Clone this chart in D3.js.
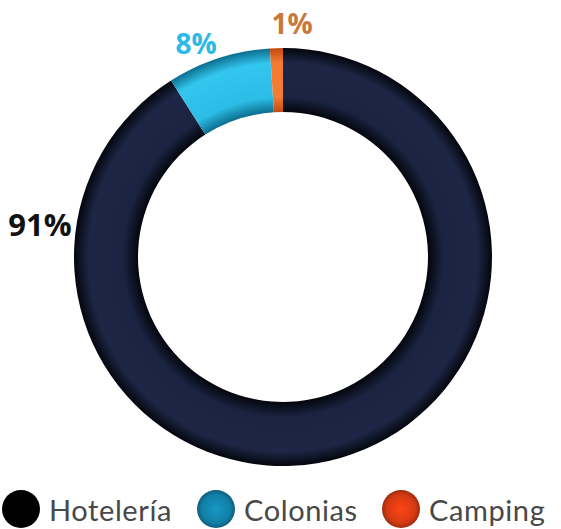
<!DOCTYPE html>
<html>
<head>
<meta charset="utf-8">
<script src="https://cdn.jsdelivr.net/npm/d3@7"></script>
<style>
  body { margin: 0; background: #fff; }
  svg { display: block; }
</style>
</head>
<body>
<svg id="chart" width="561" height="529"></svg>
<script>
const categories = ["Hotelería", "Colonias", "Camping"];
const shares = [91, 8, 1];
const labels = ["91%", "8%", "1%"];

const svg = d3.select("#chart");
const cx = 283, cy = 257;
const outerR = 209, innerR = 145;

const defs = svg.append("defs");
// ring shading: darker at the inner and outer edge
const ringStops = {
    "Hotelería": ["#04060d", "#1a2340", "#1d2645", "#04060d"],
    "Colonias": ["#0c6e8e", "#2bbde6", "#33c6ee", "#0c6e8e"],
    "Camping": ["#c24a12", "#f57a32", "#f57a32", "#c24a12"]
};
categories.forEach((c, i) => {
    const g = defs.append("radialGradient")
        .attr("id", "ring" + i)
        .attr("gradientUnits", "userSpaceOnUse")
        .attr("cx", 0).attr("cy", 0).attr("r", outerR);
    const offs = [innerR / outerR, (innerR + 15) / outerR, 0.93, 1];
    ringStops[c].forEach((col, k) => {
        g.append("stop").attr("offset", offs[k]).attr("stop-color", col);
    });
});

const legendColors = ["#000000", "#127fa6", "#d43a12"];
legendColors.forEach((col, i) => {
    const g = defs.append("radialGradient").attr("id", "dot" + i);
    g.append("stop").attr("offset", 0).attr("stop-color", d3.color(col).brighter(0.5));
    g.append("stop").attr("offset", 0.75).attr("stop-color", col);
    g.append("stop").attr("offset", 1).attr("stop-color", d3.color(col).darker(0.8));
});

const pie = d3.pie().sort(null).value(d => d.v)
    .startAngle(0).endAngle(2 * Math.PI);
const data = categories.map((c, i) => ({ c: c, v: shares[i], i: i }));
const arcs = pie(data);
const arc = d3.arc().innerRadius(innerR).outerRadius(outerR);

const g = svg.append("g").attr("transform", `translate(${cx},${cy})`);
g.selectAll("path")
    .data(arcs)
    .join("path")
    .attr("d", arc)
    .attr("fill", d => `url(#ring${d.data.i})`);

// percentage labels
const labelColors = ["#111111", "#2bb9e8", "#c8783a"];
const labelPos = [[40, 224], [196, 43], [292, 23]];
const labelSize = [31, 28, 28];
svg.selectAll("text.pct")
    .data(labels)
    .join("text")
    .attr("class", "pct")
    .attr("x", (d, i) => labelPos[i][0])
    .attr("y", (d, i) => labelPos[i][1])
    .attr("text-anchor", "middle")
    .attr("dominant-baseline", "central")
    .attr("font-family", "'Open Sans', sans-serif")
    .attr("font-weight", 700)
    .attr("font-size", (d, i) => labelSize[i])
    .attr("fill", (d, i) => labelColors[i])
    .text(d => d);

// legend
const legendX = [21, 216, 401];
const lg = svg.append("g").attr("transform", "translate(0,509)");
const items = lg.selectAll("g")
    .data(categories)
    .join("g")
    .attr("transform", (d, i) => `translate(${legendX[i]},0)`);
items.append("circle")
    .attr("r", 19)
    .attr("fill", (d, i) => `url(#dot${i})`);
items.append("text")
    .attr("x", 28)
    .attr("dominant-baseline", "central")
    .attr("font-family", "Lato, 'Open Sans', sans-serif")
    .attr("font-size", 29)
    .attr("letter-spacing", 0.6)
    .attr("fill", "#484848")
    .text(d => d);
</script>
</body>
</html>
